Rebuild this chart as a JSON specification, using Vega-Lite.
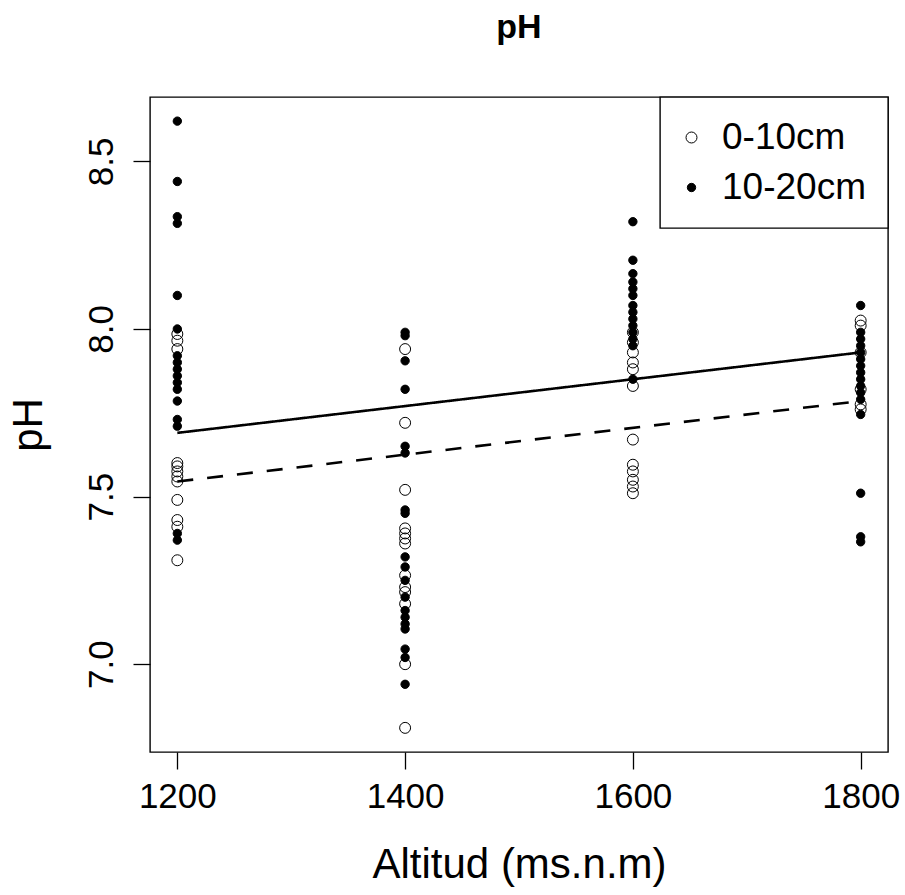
{
  "$schema": "https://vega.github.io/schema/vega-lite/v6.json",
  "autosize": "none",
  "width": 738,
  "height": 655,
  "padding": {"left": 150, "top": 97, "right": 17, "bottom": 143},
  "background": "white",
  "title": {"text": "pH", "fontSize": 34, "fontWeight": "bold", "font": "Liberation Sans", "color": "black", "anchor": "middle", "baseline": "alphabetic", "offset": 24},
  "datasets": {
    "puntos": [
      {"Altitud": 1200, "pH": 7.985, "Profundidad": "0-10cm"},
      {"Altitud": 1200, "pH": 7.965, "Profundidad": "0-10cm"},
      {"Altitud": 1200, "pH": 7.94, "Profundidad": "0-10cm"},
      {"Altitud": 1200, "pH": 7.60, "Profundidad": "0-10cm"},
      {"Altitud": 1200, "pH": 7.59, "Profundidad": "0-10cm"},
      {"Altitud": 1200, "pH": 7.575, "Profundidad": "0-10cm"},
      {"Altitud": 1200, "pH": 7.56, "Profundidad": "0-10cm"},
      {"Altitud": 1200, "pH": 7.545, "Profundidad": "0-10cm"},
      {"Altitud": 1200, "pH": 7.49, "Profundidad": "0-10cm"},
      {"Altitud": 1200, "pH": 7.43, "Profundidad": "0-10cm"},
      {"Altitud": 1200, "pH": 7.41, "Profundidad": "0-10cm"},
      {"Altitud": 1200, "pH": 7.31, "Profundidad": "0-10cm"},
      {"Altitud": 1400, "pH": 7.94, "Profundidad": "0-10cm"},
      {"Altitud": 1400, "pH": 7.72, "Profundidad": "0-10cm"},
      {"Altitud": 1400, "pH": 7.52, "Profundidad": "0-10cm"},
      {"Altitud": 1400, "pH": 7.405, "Profundidad": "0-10cm"},
      {"Altitud": 1400, "pH": 7.39, "Profundidad": "0-10cm"},
      {"Altitud": 1400, "pH": 7.375, "Profundidad": "0-10cm"},
      {"Altitud": 1400, "pH": 7.36, "Profundidad": "0-10cm"},
      {"Altitud": 1400, "pH": 7.265, "Profundidad": "0-10cm"},
      {"Altitud": 1400, "pH": 7.23, "Profundidad": "0-10cm"},
      {"Altitud": 1400, "pH": 7.215, "Profundidad": "0-10cm"},
      {"Altitud": 1400, "pH": 7.18, "Profundidad": "0-10cm"},
      {"Altitud": 1400, "pH": 7.00, "Profundidad": "0-10cm"},
      {"Altitud": 1400, "pH": 6.81, "Profundidad": "0-10cm"},
      {"Altitud": 1600, "pH": 7.99, "Profundidad": "0-10cm"},
      {"Altitud": 1600, "pH": 7.96, "Profundidad": "0-10cm"},
      {"Altitud": 1600, "pH": 7.93, "Profundidad": "0-10cm"},
      {"Altitud": 1600, "pH": 7.90, "Profundidad": "0-10cm"},
      {"Altitud": 1600, "pH": 7.88, "Profundidad": "0-10cm"},
      {"Altitud": 1600, "pH": 7.83, "Profundidad": "0-10cm"},
      {"Altitud": 1600, "pH": 7.67, "Profundidad": "0-10cm"},
      {"Altitud": 1600, "pH": 7.595, "Profundidad": "0-10cm"},
      {"Altitud": 1600, "pH": 7.575, "Profundidad": "0-10cm"},
      {"Altitud": 1600, "pH": 7.55, "Profundidad": "0-10cm"},
      {"Altitud": 1600, "pH": 7.53, "Profundidad": "0-10cm"},
      {"Altitud": 1600, "pH": 7.51, "Profundidad": "0-10cm"},
      {"Altitud": 1800, "pH": 8.025, "Profundidad": "0-10cm"},
      {"Altitud": 1800, "pH": 8.01, "Profundidad": "0-10cm"},
      {"Altitud": 1800, "pH": 7.93, "Profundidad": "0-10cm"},
      {"Altitud": 1800, "pH": 7.82, "Profundidad": "0-10cm"},
      {"Altitud": 1800, "pH": 7.775, "Profundidad": "0-10cm"},
      {"Altitud": 1800, "pH": 7.76, "Profundidad": "0-10cm"},
      {"Altitud": 1200, "pH": 8.62, "Profundidad": "10-20cm"},
      {"Altitud": 1200, "pH": 8.44, "Profundidad": "10-20cm"},
      {"Altitud": 1200, "pH": 8.335, "Profundidad": "10-20cm"},
      {"Altitud": 1200, "pH": 8.315, "Profundidad": "10-20cm"},
      {"Altitud": 1200, "pH": 8.10, "Profundidad": "10-20cm"},
      {"Altitud": 1200, "pH": 8.00, "Profundidad": "10-20cm"},
      {"Altitud": 1200, "pH": 7.92, "Profundidad": "10-20cm"},
      {"Altitud": 1200, "pH": 7.90, "Profundidad": "10-20cm"},
      {"Altitud": 1200, "pH": 7.88, "Profundidad": "10-20cm"},
      {"Altitud": 1200, "pH": 7.86, "Profundidad": "10-20cm"},
      {"Altitud": 1200, "pH": 7.84, "Profundidad": "10-20cm"},
      {"Altitud": 1200, "pH": 7.82, "Profundidad": "10-20cm"},
      {"Altitud": 1200, "pH": 7.785, "Profundidad": "10-20cm"},
      {"Altitud": 1200, "pH": 7.73, "Profundidad": "10-20cm"},
      {"Altitud": 1200, "pH": 7.71, "Profundidad": "10-20cm"},
      {"Altitud": 1200, "pH": 7.39, "Profundidad": "10-20cm"},
      {"Altitud": 1200, "pH": 7.37, "Profundidad": "10-20cm"},
      {"Altitud": 1400, "pH": 7.99, "Profundidad": "10-20cm"},
      {"Altitud": 1400, "pH": 7.98, "Profundidad": "10-20cm"},
      {"Altitud": 1400, "pH": 7.905, "Profundidad": "10-20cm"},
      {"Altitud": 1400, "pH": 7.82, "Profundidad": "10-20cm"},
      {"Altitud": 1400, "pH": 7.65, "Profundidad": "10-20cm"},
      {"Altitud": 1400, "pH": 7.63, "Profundidad": "10-20cm"},
      {"Altitud": 1400, "pH": 7.46, "Profundidad": "10-20cm"},
      {"Altitud": 1400, "pH": 7.45, "Profundidad": "10-20cm"},
      {"Altitud": 1400, "pH": 7.32, "Profundidad": "10-20cm"},
      {"Altitud": 1400, "pH": 7.29, "Profundidad": "10-20cm"},
      {"Altitud": 1400, "pH": 7.25, "Profundidad": "10-20cm"},
      {"Altitud": 1400, "pH": 7.20, "Profundidad": "10-20cm"},
      {"Altitud": 1400, "pH": 7.16, "Profundidad": "10-20cm"},
      {"Altitud": 1400, "pH": 7.14, "Profundidad": "10-20cm"},
      {"Altitud": 1400, "pH": 7.12, "Profundidad": "10-20cm"},
      {"Altitud": 1400, "pH": 7.105, "Profundidad": "10-20cm"},
      {"Altitud": 1400, "pH": 7.045, "Profundidad": "10-20cm"},
      {"Altitud": 1400, "pH": 7.02, "Profundidad": "10-20cm"},
      {"Altitud": 1400, "pH": 6.94, "Profundidad": "10-20cm"},
      {"Altitud": 1600, "pH": 8.32, "Profundidad": "10-20cm"},
      {"Altitud": 1600, "pH": 8.205, "Profundidad": "10-20cm"},
      {"Altitud": 1600, "pH": 8.165, "Profundidad": "10-20cm"},
      {"Altitud": 1600, "pH": 8.14, "Profundidad": "10-20cm"},
      {"Altitud": 1600, "pH": 8.12, "Profundidad": "10-20cm"},
      {"Altitud": 1600, "pH": 8.10, "Profundidad": "10-20cm"},
      {"Altitud": 1600, "pH": 8.07, "Profundidad": "10-20cm"},
      {"Altitud": 1600, "pH": 8.05, "Profundidad": "10-20cm"},
      {"Altitud": 1600, "pH": 8.03, "Profundidad": "10-20cm"},
      {"Altitud": 1600, "pH": 8.01, "Profundidad": "10-20cm"},
      {"Altitud": 1600, "pH": 7.99, "Profundidad": "10-20cm"},
      {"Altitud": 1600, "pH": 7.97, "Profundidad": "10-20cm"},
      {"Altitud": 1600, "pH": 7.95, "Profundidad": "10-20cm"},
      {"Altitud": 1600, "pH": 7.85, "Profundidad": "10-20cm"},
      {"Altitud": 1800, "pH": 8.07, "Profundidad": "10-20cm"},
      {"Altitud": 1800, "pH": 7.99, "Profundidad": "10-20cm"},
      {"Altitud": 1800, "pH": 7.97, "Profundidad": "10-20cm"},
      {"Altitud": 1800, "pH": 7.95, "Profundidad": "10-20cm"},
      {"Altitud": 1800, "pH": 7.93, "Profundidad": "10-20cm"},
      {"Altitud": 1800, "pH": 7.91, "Profundidad": "10-20cm"},
      {"Altitud": 1800, "pH": 7.89, "Profundidad": "10-20cm"},
      {"Altitud": 1800, "pH": 7.87, "Profundidad": "10-20cm"},
      {"Altitud": 1800, "pH": 7.85, "Profundidad": "10-20cm"},
      {"Altitud": 1800, "pH": 7.83, "Profundidad": "10-20cm"},
      {"Altitud": 1800, "pH": 7.81, "Profundidad": "10-20cm"},
      {"Altitud": 1800, "pH": 7.79, "Profundidad": "10-20cm"},
      {"Altitud": 1800, "pH": 7.745, "Profundidad": "10-20cm"},
      {"Altitud": 1800, "pH": 7.51, "Profundidad": "10-20cm"},
      {"Altitud": 1800, "pH": 7.38, "Profundidad": "10-20cm"},
      {"Altitud": 1800, "pH": 7.365, "Profundidad": "10-20cm"}
    ],
    "rectas": [
      {"Altitud": 1200, "pH": 7.69, "linea": "10-20cm"},
      {"Altitud": 1800, "pH": 7.93, "linea": "10-20cm"},
      {"Altitud": 1200, "pH": 7.545, "linea": "0-10cm"},
      {"Altitud": 1800, "pH": 7.785, "linea": "0-10cm"}
    ]
  },
  "layer": [
    {
      "data": {"name": "puntos"},
      "mark": {"type": "point", "shape": "circle", "filled": true, "strokeWidth": 1, "opacity": 1},
      "encoding": {
        "x": {"field": "Altitud", "type": "quantitative", "title": "Altitud (ms.n.m)",
          "scale": {"domain": [1176, 1824], "nice": false, "zero": false},
          "axis": {"values": [1200, 1400, 1600, 1800], "format": "d"}},
        "y": {"field": "pH", "type": "quantitative", "title": "pH",
          "scale": {"domain": [6.738, 8.692], "nice": false, "zero": false},
          "axis": {"values": [7.0, 7.5, 8.0, 8.5], "format": ".1f", "labelAngle": -90, "labelAlign": "center", "labelBaseline": "bottom"}},
        "fill": {"field": "Profundidad", "type": "nominal", "scale": {"domain": ["0-10cm", "10-20cm"], "range": ["transparent", "black"]}, "legend": {"title": null}},
        "stroke": {"field": "Profundidad", "type": "nominal", "scale": {"domain": ["0-10cm", "10-20cm"], "range": ["black", "black"]}, "legend": {"title": null}},
        "size": {"field": "Profundidad", "type": "nominal", "scale": {"domain": ["0-10cm", "10-20cm"], "range": [120, 70]}, "legend": {"title": null}}
      }
    },
    {
      "data": {"name": "rectas"},
      "mark": {"type": "line", "color": "black", "strokeWidth": 2.6},
      "encoding": {
        "x": {"field": "Altitud", "type": "quantitative"},
        "y": {"field": "pH", "type": "quantitative"},
        "detail": {"field": "linea"},
        "strokeDash": {"field": "linea", "type": "nominal", "scale": {"domain": ["10-20cm", "0-10cm"], "range": [[1, 0], [16, 14]]}, "legend": null}
      }
    }
  ],
  "config": {
    "font": "Liberation Sans",
    "view": {"stroke": "black", "strokeWidth": 1.4},
    "axis": {
      "domain": false,
      "grid": false,
      "ticks": true,
      "tickColor": "black",
      "tickWidth": 1.3,
      "tickSize": 17,
      "labelFont": "Liberation Sans",
      "labelFontSize": 35,
      "labelColor": "black",
      "labelPadding": 10,
      "titleFont": "Liberation Sans",
      "titleFontSize": 42,
      "titleFontWeight": "normal",
      "titleColor": "black"
    },
    "axisX": {"titlePadding": 30},
    "axisY": {"titlePadding": 34, "labelPadding": 14},
    "legend": {
      "orient": "top-right",
      "offset": 0,
      "padding": 22,
      "strokeColor": "black",
      "strokeWidth": 1.4,
      "fillColor": "white",
      "labelFont": "Liberation Sans",
      "labelFontSize": 37,
      "labelColor": "black",
      "labelOffset": 12,
      "symbolOffset": -9,
      "rowPadding": 12,
      "symbolStrokeWidth": 1
    }
  }
}
